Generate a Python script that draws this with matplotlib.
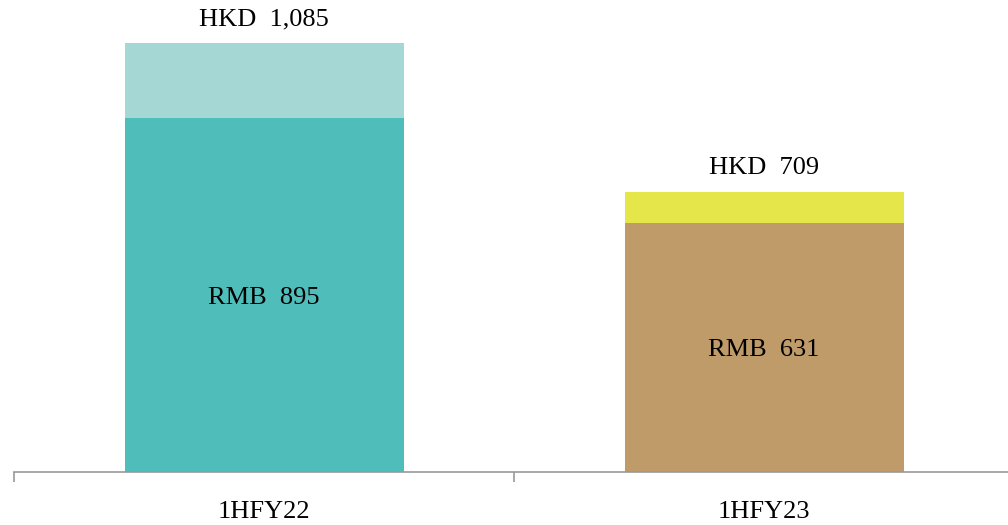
import matplotlib.pyplot as plt
import numpy as np

# --- data ---
kategorie = ["1HFY22", "1HFY23"]
rmb = [895, 631]
hkd = [1085, 709]
barvy_spodni = ["#4FBDBA", "#BE9B69"]
barvy_horni = ["#A5D8D4", "#E5E64A"]

plt.rcParams['font.family'] = ['Liberation Serif', 'DejaVu Serif']

fig = plt.figure(figsize=(10.08, 5.25), dpi=100)
ax = fig.add_axes([14 / 1008, 53.5 / 525, 1000 / 1008, 471.5 / 525])

x = np.arange(len(kategorie))
rozdil = [h - r for h, r in zip(hkd, rmb)]

ax.bar(x, rmb, width=0.558, color=barvy_spodni)
ax.bar(x, rozdil, bottom=rmb, width=0.558, color=barvy_horni)

# popisky
for i in range(len(x)):
    ax.annotate(f"RMB  {rmb[i]:,}", (x[i], rmb[i] / 2), xytext=(0, -2),
                textcoords='offset points', ha='center', va='center', fontsize=19)
    ax.annotate(f"HKD  {hkd[i]:,}", (x[i], hkd[i]), xytext=(0, 9),
                textcoords='offset points', ha='center', va='bottom', fontsize=19)

ax.set_xlim(-0.5, 1.5)
ax.set_ylim(0, 1195)

for s in ['top', 'right', 'left']:
    ax.spines[s].set_visible(False)
ax.spines['bottom'].set_color('#999999')
ax.spines['bottom'].set_linewidth(1.2)

ax.set_yticks([])
ax.set_xticks(x)
ax.set_xticklabels(kategorie, fontsize=19)
ax.tick_params(axis='x', which='major', length=0, pad=21)
ax.set_xticks([-0.5, 0.5, 1.5], minor=True)
ax.tick_params(axis='x', which='minor', length=7, color='#999999', width=1.2, direction='out')

fig.savefig("out.png", dpi=100)
